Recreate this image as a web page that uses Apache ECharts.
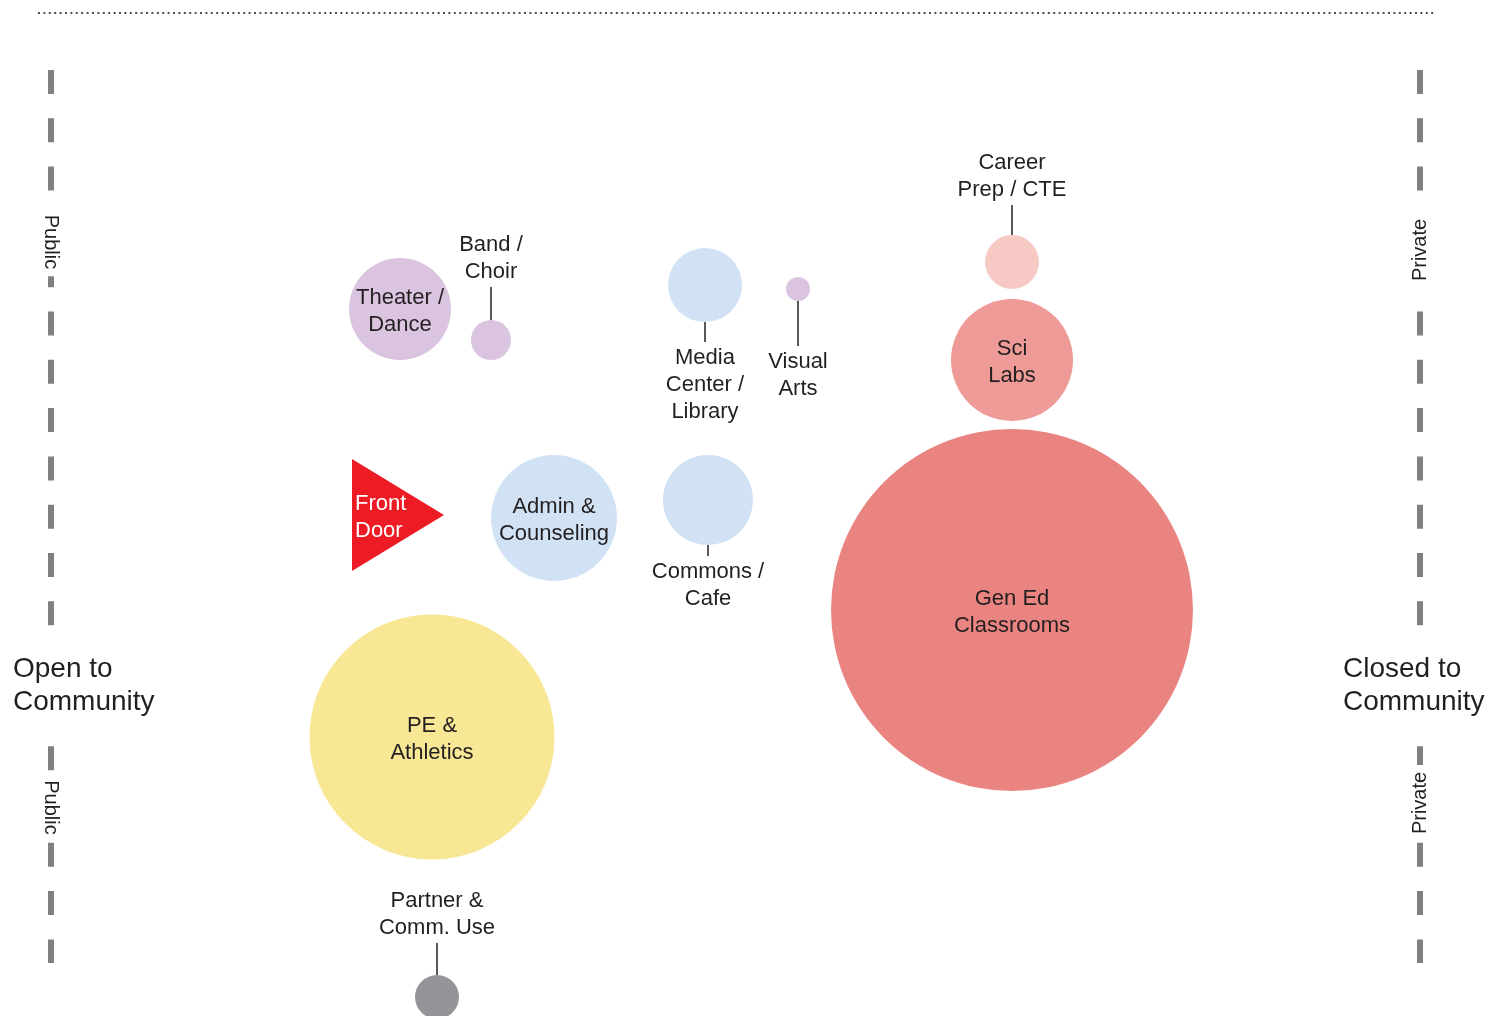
<!DOCTYPE html>
<html>
<head>
<meta charset="utf-8">
<script src="https://cdn.jsdelivr.net/npm/echarts@6/dist/echarts.min.js"></script>
<style>
html,body{margin:0;padding:0;background:#fff;}
#chart{width:1491px;height:1016px;}
</style>
</head>
<body>
<div id="chart"></div>
<script>
// ---- data (diagram units = layout units) ----
const spaces   = ['Theater /\nDance','Band /\nChoir','Media\nCenter /\nLibrary','Visual\nArts','Career\nPrep / CTE','Sci\nLabs','Gen Ed\nClassrooms','Admin &\nCounseling','Commons /\nCafe','PE &\nAthletics','Partner &\nComm. Use'];
const openness = [400, 491, 705, 798, 1012, 1012, 1012, 554, 708, 432, 437];
const depth    = [309, 340, 285, 289, 262, 360, 610, 518, 500, 737, 997];
const extent   = [102, 40, 74, 24, 54, 122, 362, 126, 90, 245, 44];
const group    = ['arts','arts','shared','arts','career','science','classroom','shared','shared','athletics','partner'];
const labelAt  = ['inside','top','bottom','bottom','top','inside','inside','inside','bottom','inside','top'];
const leaderLen= [0, 33, 20, 45, 30, 0, 0, 0, 11, 0, 32];

const entryName = 'Front\nDoor';
const entryPos  = [398, 515];
const entrySize = [92, 112];

const scaleEnds   = [70, 963];
const scaleX      = [51, 1420];
const scaleNotes  = ['Public','Public','Private','Private'];
const scaleNoteX  = [51, 51, 1420, 1420];
const scaleNoteY  = [242, 807.5, 250, 803];
const poleNames   = ['Open to\nCommunity','Closed to\nCommunity'];
const poleX       = [13, 1343];
const poleY       = [683.5, 683.5];
const topRule     = [[38, 13], [1435, 13]];

// ---- styles ----
const FONT = 'Liberation Sans, Arial, Helvetica, sans-serif';
const INK = '#231f20';
const groupColor = {
  arts:'#dac4e0', shared:'#d1e2f4', career:'#f6c9c5', science:'#ee9a97',
  classroom:'#e98481', athletics:'#f8e794', partner:'#939598'
};

const bubbleData = spaces.map((n, i) => ({
  name: n,
  value: [openness[i], depth[i]],
  symbolSize: extent[i],
  itemStyle: { color: groupColor[group[i]], opacity: 1 },
  label: {
    position: labelAt[i],
    distance: labelAt[i] === 'top' ? leaderLen[i] + 4 : leaderLen[i]
  }
}));
bubbleData.push({
  name: entryName,
  value: entryPos,
  symbol: 'path://M0 0L92 56L0 112Z',
  symbolSize: entrySize,
  itemStyle: { color: '#ed1c24', opacity: 1 },
  label: { position: 'insideLeft', distance: 3, color: '#ffffff', align: 'left' }
});

const leaderData = [];
spaces.forEach((n, i) => {
  if (leaderLen[i] > 0) leaderData.push([openness[i], depth[i], extent[i] / 2, labelAt[i] === 'top' ? -1 : 1, leaderLen[i]]);
});

const noteData = scaleNotes.map((t, i) => ({
  name: t,
  value: [scaleNoteX[i], scaleNoteY[i]],
  label: { rotate: t === 'Public' ? -90 : 90, fontSize: 20, padding: [0, 7] }
}));
poleNames.forEach((t, i) => noteData.push({
  name: t,
  value: [poleX[i], poleY[i]],
  label: { fontSize: 28, lineHeight: 33, align: 'left', padding: [6, 0], offset: [0, 2] }
}));

const scaleLine = (x) => ({
  type: 'line', data: [[x, scaleEnds[0]], [x, scaleEnds[1]]], symbol: 'none', silent: true, z: 1,
  lineStyle: { color: '#808080', width: 6, type: [24, 24.3], cap: 'butt' }
});

const chart = echarts.init(document.getElementById('chart'), null, { renderer: 'canvas' });
chart.setOption({
  animation: false,
  backgroundColor: '#ffffff',
  textStyle: { fontFamily: FONT },
  grid: { left: 0, right: 0, top: 0, bottom: 0 },
  xAxis: { type: 'value', min: 0, max: 1491, show: false },
  yAxis: { type: 'value', min: 0, max: 1016, inverse: true, show: false },
  series: [
    {
      type: 'line', data: topRule, symbol: 'none', silent: true, z: 1,
      lineStyle: { color: '#4d4d4d', width: 2, type: [2, 3.4], cap: 'butt' }
    },
    scaleLine(scaleX[0]),
    scaleLine(scaleX[1]),
    {
      type: 'custom', z: 2, silent: true,
      data: leaderData,
      renderItem: function (params, api) {
        const p = api.coord([api.value(0), api.value(1)]);
        const r = api.value(2), dir = api.value(3), len = api.value(4);
        const y1 = p[1] + dir * r, y2 = y1 + dir * len;
        return { type: 'line', shape: { x1: p[0], y1: y1, x2: p[0], y2: y2 },
                 style: { stroke: INK, lineWidth: 1.5 } };
      }
    },
    {
      type: 'scatter', z: 3, silent: true,
      itemStyle: { opacity: 1 },
      data: bubbleData,
      label: {
        show: true, formatter: '{b}', color: INK, fontSize: 22, lineHeight: 27,
        fontFamily: FONT, align: 'center', offset: [0, 2]
      }
    },
    {
      type: 'scatter', z: 4, silent: true, symbolSize: 0,
      itemStyle: { opacity: 1 },
      data: noteData,
      label: {
        show: true, position: 'inside', formatter: '{b}', color: INK,
        backgroundColor: '#ffffff', fontFamily: FONT, verticalAlign: 'middle'
      }
    }
  ]
});
</script>
</body>
</html>
